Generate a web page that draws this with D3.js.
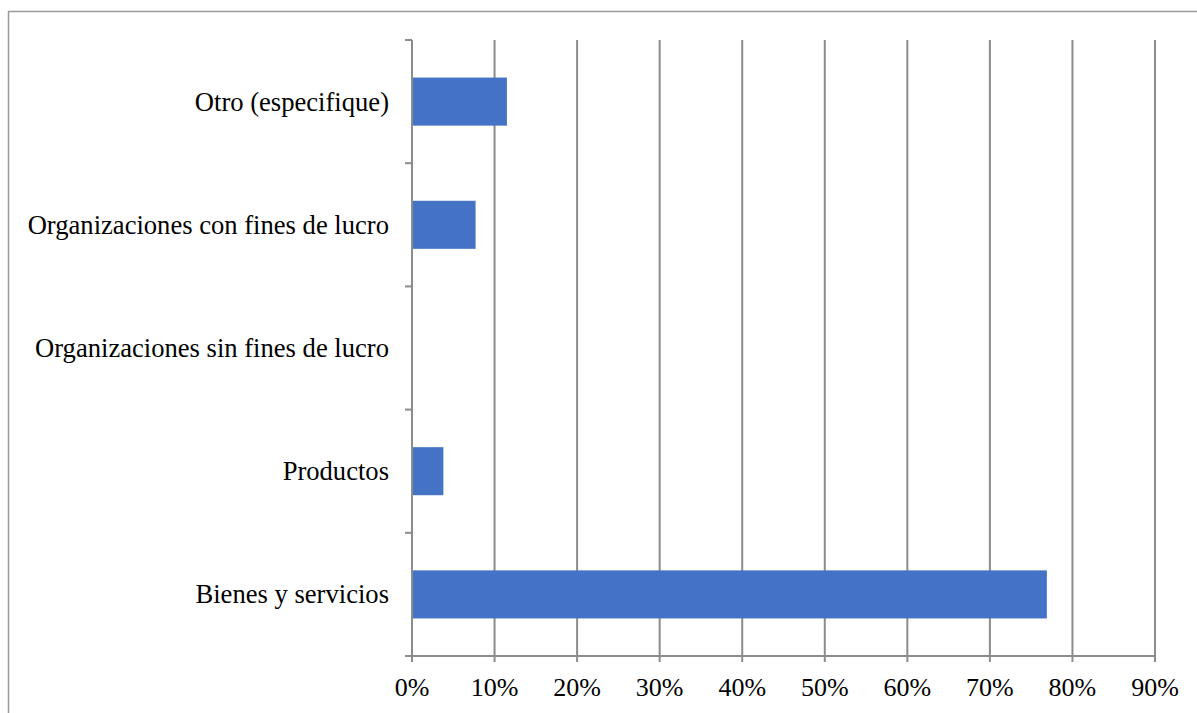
<!DOCTYPE html>
<html>
<head>
<meta charset="utf-8">
<script src="https://cdn.jsdelivr.net/npm/d3@7"></script>
<style>
  html, body { margin: 0; padding: 0; background: #fff; }
  svg { display: block; }
  text { font-family: "Liberation Serif", "Times New Roman", serif; fill: #000; }
</style>
</head>
<body>
<svg id="chart" width="1197" height="713"></svg>
<script>
// Categories listed top to bottom
const categories = [
  "Otro (especifique)",
  "Organizaciones con fines de lucro",
  "Organizaciones sin fines de lucro",
  "Productos",
  "Bienes y servicios"
];
// Share of responses per category
const shares = [0.115, 0.077, 0, 0.038, 0.769];
// Percentage ticks on the value axis
const tickValues = [0, 0.1, 0.2, 0.3, 0.4, 0.5, 0.6, 0.7, 0.8, 0.9];

const svg = d3.select("#chart");
const W = 1197, H = 713;
const plot = { left: 412, right: 1155, top: 40, bottom: 656 };
const gridColor = "#8c8c8c";

// Outer frame (top and left edges)
svg.append("path")
  .attr("d", `M8.5,${H} V11.5 H${W}`)
  .attr("fill", "none")
  .attr("stroke", "#9a9a9a")
  .attr("stroke-width", 1.5);

const x = d3.scaleLinear().domain([0, 0.9]).range([plot.left, plot.right]);
const y = d3.scaleBand().domain(categories)
  .range([plot.top, plot.bottom])
  .paddingInner(0.61).paddingOuter(0.305);

// Vertical gridlines, with a short tick below the axis
svg.append("g").selectAll("line")
  .data(tickValues.slice(1))
  .join("line")
  .attr("x1", d => x(d)).attr("x2", d => x(d))
  .attr("y1", plot.top).attr("y2", plot.bottom + 6)
  .attr("stroke", gridColor).attr("stroke-width", 2);

// Bars
svg.append("g").selectAll("rect")
  .data(categories.map((c, i) => ({ c, v: shares[i] })).filter(d => d.v > 0))
  .join("rect")
  .attr("x", x(0))
  .attr("y", d => y(d.c))
  .attr("width", d => x(d.v) - x(0))
  .attr("height", y.bandwidth())
  .attr("fill", "#4472C4");

// Category axis: line plus ticks at band boundaries
const boundaries = d3.range(categories.length + 1)
  .map(i => plot.top + i * (plot.bottom - plot.top) / categories.length);
const yAxis = svg.append("g");
yAxis.append("line")
  .attr("x1", x(0)).attr("x2", x(0))
  .attr("y1", plot.top).attr("y2", plot.bottom + 6)
  .attr("stroke", gridColor).attr("stroke-width", 2);
yAxis.selectAll("line.tick")
  .data(boundaries)
  .join("line").attr("class", "tick")
  .attr("x1", x(0) - 7).attr("x2", x(0))
  .attr("y1", d => d).attr("y2", d => d)
  .attr("stroke", gridColor).attr("stroke-width", 2);
yAxis.selectAll("text")
  .data(categories)
  .join("text")
  .attr("x", 389)
  .attr("y", d => y(d) + y.bandwidth() / 2)
  .attr("dy", "0.34em")
  .attr("text-anchor", "end")
  .attr("font-size", 26.6)
  .text(d => d);

// Value axis
const xAxis = svg.append("g");
xAxis.append("line")
  .attr("x1", x(0) - 7).attr("x2", x(0.9))
  .attr("y1", plot.bottom).attr("y2", plot.bottom)
  .attr("stroke", gridColor).attr("stroke-width", 2);
xAxis.selectAll("text")
  .data(tickValues)
  .join("text")
  .attr("x", d => x(d))
  .attr("y", 696)
  .attr("text-anchor", "middle")
  .attr("font-size", 26)
  .text(d => d3.format(".0%")(d));
</script>
</body>
</html>
